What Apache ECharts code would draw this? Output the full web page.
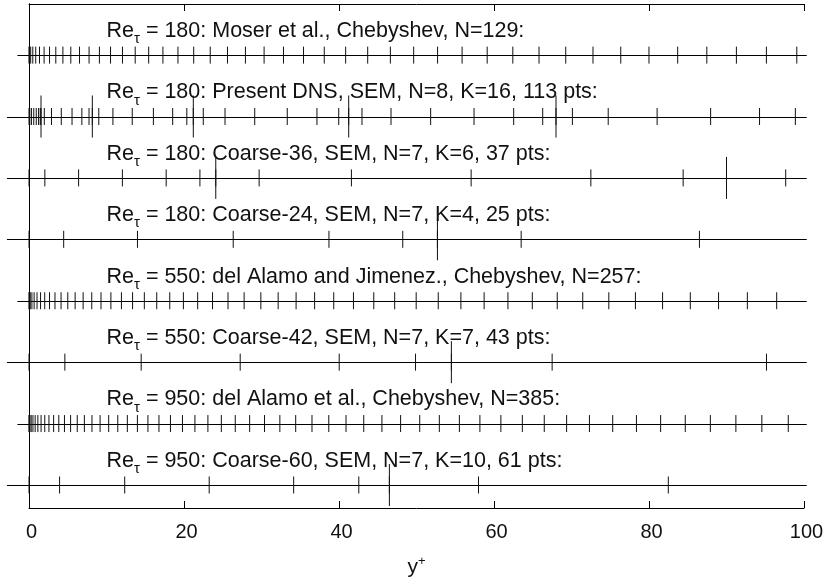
<!DOCTYPE html>
<html><head><meta charset="utf-8">
<script src="https://cdn.jsdelivr.net/npm/echarts@6/dist/echarts.min.js"></script>
<style>html,body{margin:0;padding:0;background:#fff}#c{width:825px;height:579px}</style>
</head><body><div id="c"></div>
<script>
// ---- data ----
const xTickValues = [0, 20, 40, 60, 80, 100];
const labelPrefix = 'Re';
const labelSub = 'τ';
const labelRest = [
  ' = 180: Moser et al., Chebyshev, N=129:',
  ' = 180: Present DNS, SEM, N=8, K=16, 113 pts:',
  ' = 180: Coarse-36, SEM, N=7, K=6, 37 pts:',
  ' = 180: Coarse-24, SEM, N=7, K=4, 25 pts:',
  ' = 550: del Alamo and Jimenez., Chebyshev, N=257:',
  ' = 550: Coarse-42, SEM, N=7, K=7, 43 pts:',
  ' = 950: del Alamo et al., Chebyshev, N=385:',
  ' = 950: Coarse-60, SEM, N=7, K=10, 61 pts:'
];
const moser180 = [0, 0.054, 0.217, 0.488, 0.867, 1.354, 1.948, 2.650, 3.459, 4.374, 5.395, 6.520, 7.751, 9.085, 10.522, 12.061, 13.702, 15.442, 17.282, 19.220, 21.254, 23.384, 25.609, 27.926, 30.336, 32.835, 35.423, 38.098, 40.858, 43.703, 46.629, 49.635, 52.721, 55.883, 59.119, 62.429, 65.809, 69.258, 72.774, 76.355, 79.997, 83.700, 87.461, 91.278, 95.149, 99.070];
const present180 = [0, 0.099, 0.316, 0.613, 0.937, 1.234, 1.451, 1.55, 1.975, 2.901, 4.167, 5.553, 6.819, 7.745, 8.17, 9.006, 10.830, 13.321, 16.049, 18.540, 20.364, 21.2, 22.486, 25.293, 29.127, 33.323, 37.157, 39.964, 41.25, 42.965, 46.711, 51.826, 57.424, 62.539, 66.285, 68.0, 70.116, 74.737, 81.047, 87.953, 94.263, 98.884];
const present180Elem = [1.55, 8.17, 21.2, 41.25, 68.0];
const coarse36 = [0, 2.046, 6.400, 12.05, 17.70, 22.054, 24.1, 29.694, 41.601, 57.05, 72.499, 84.406, 90, 97.64];
const coarse36Elem = [24.1, 90];
const coarse24 = [0, 4.474, 13.996, 26.35, 38.704, 48.226, 52.7, 63.506, 86.508];
const coarse24Elem = [52.7];
const delAlamo550 = [0, 0.041, 0.166, 0.373, 0.662, 1.035, 1.490, 2.028, 2.648, 3.351, 4.136, 5.004, 5.953, 6.984, 8.097, 9.292, 10.568, 11.926, 13.364, 14.883, 16.483, 18.163, 19.923, 21.763, 23.683, 25.681, 27.760, 29.916, 32.151, 34.463, 36.854, 39.322, 41.866, 44.487, 47.185, 49.958, 52.806, 55.729, 58.727, 61.798, 64.943, 68.161, 71.453, 74.815, 78.249, 81.754, 85.330, 88.976, 92.691, 96.476];
const coarse42 = [0, 4.627, 14.474, 27.25, 40.026, 49.873, 54.5, 67.5, 95.16];
const coarse42Elem = [54.5];
const delAlamo950 = [0, 0.032, 0.127, 0.286, 0.509, 0.795, 1.144, 1.557, 2.034, 2.574, 3.178, 3.844, 4.575, 5.368, 6.225, 7.144, 8.127, 9.173, 10.282, 11.454, 12.689, 13.986, 15.346, 16.769, 18.254, 19.801, 21.411, 23.083, 24.817, 26.613, 28.470, 30.390, 32.370, 34.413, 36.516, 38.681, 40.907, 43.193, 45.540, 47.948, 50.416, 52.945, 55.533, 58.181, 60.889, 63.657, 66.484, 69.370, 72.314, 75.318, 78.380, 81.501, 84.679, 87.916, 91.210, 94.562, 97.971];
const coarse60 = [0, 3.947, 12.349, 23.25, 34.151, 42.553, 46.5, 58.0, 82.49];
const coarse60Elem = [46.5];

// ---- build ----
const rowNodes = [moser180, present180, coarse36, coarse24, delAlamo550, coarse42, delAlamo950, coarse60];
const rowElems = [[], present180Elem, coarse36Elem, coarse24Elem, [], coarse42Elem, [], coarse60Elem];
const rowIsCheb = [1, 0, 0, 0, 1, 0, 1, 0];
const nRows = rowNodes.length;
const rowY = i => nRows - i; // top row = 8

const tickData = [];
rowNodes.forEach((arr, i) => arr.forEach(v => tickData.push([v, rowY(i), 0])));
rowElems.forEach((arr, i) => arr.forEach(v => tickData.push([v, rowY(i), 1])));
const lineData = rowNodes.map((a, i) => [rowY(i), rowIsCheb[i]]);
const textData = labelRest.map((t, i) => [10, rowY(i), i]);

const FONT = '"Liberation Sans", Arial, Helvetica, sans-serif';
const MAIN_SIZE = 21.5, SUB_SIZE = 15;
const SHORT = 8.5, TALL = 21;
const cv = document.createElement('canvas').getContext('2d');
function tw(t, s) { cv.font = s + 'px ' + FONT; return cv.measureText(t).width; }

const chart = echarts.init(document.getElementById('c'), null, {renderer: 'canvas'});
chart.setOption({
  animation: false,
  backgroundColor: '#fff',
  grid: {left: 29, right: 21, top: 4, bottom: 71, show: false, containLabel: false, outerBoundsMode: 'none'},
  xAxis: [{
    type: 'value', min: 0, max: 100, interval: 20, position: 'bottom',
    axisLine: {show: true, lineStyle: {color: '#000', width: 1}},
    axisTick: {show: true, inside: true, length: 7, lineStyle: {color: '#000'}},
    axisLabel: {color: '#111', fontSize: 20, fontFamily: FONT, margin: 14, padding: [0, 0, 0, 5],
      customValues: xTickValues},
    splitLine: {show: false},
    name: '{a|y}{b|+}', nameLocation: 'middle', nameGap: 47,
    nameTextStyle: {color: '#000', fontFamily: FONT,
      rich: {a: {fontSize: 21, fontFamily: FONT, color: '#111', lineHeight: 24},
             b: {fontSize: 13, fontFamily: FONT, color: '#111', verticalAlign: 'top', lineHeight: 13}}}
  }, {
    type: 'value', min: 0, max: 100, interval: 20, position: 'top',
    axisLine: {show: true, lineStyle: {color: '#000', width: 1}},
    axisTick: {show: true, inside: true, length: 7, lineStyle: {color: '#000'}},
    axisLabel: {show: false}, splitLine: {show: false}
  }],
  yAxis: [{
    type: 'value', min: 0.625, max: 8.832, position: 'left',
    axisLine: {show: true, lineStyle: {color: '#000', width: 1}},
    axisTick: {show: false}, axisLabel: {show: false}, splitLine: {show: false}
  }, {
    type: 'value', min: 0.625, max: 8.832, position: 'right',
    axisLine: {show: true, lineStyle: {color: '#000', width: 1}},
    axisTick: {show: false}, axisLabel: {show: false}, splitLine: {show: false}
  }],
  series: [{
    type: 'custom', clip: false, data: lineData, silent: true,
    renderItem: (params, api) => {
      const y = api.value(0), cheb = api.value(1);
      const p1 = api.coord([cheb ? -1.5 : -2.85, y]);
      const p2 = api.coord([100.35, y]);
      return {type: 'line', shape: {x1: p1[0], y1: Math.round(p1[1]) + 0.5, x2: p2[0], y2: Math.round(p2[1]) + 0.5},
        style: {stroke: '#000', lineWidth: 1.2}};
    }
  }, {
    type: 'custom', clip: false, data: tickData, silent: true,
    renderItem: (params, api) => {
      const p = api.coord([api.value(0), api.value(1)]);
      const h = api.value(2) ? TALL : SHORT;
      return {type: 'line', shape: {x1: p[0], y1: p[1] - h, x2: p[0], y2: p[1] + h},
        style: {stroke: '#111', lineWidth: 1}};
    }
  }, {
    type: 'custom', clip: false, data: textData, silent: true,
    renderItem: (params, api) => {
      const p = api.coord([api.value(0), api.value(1)]);
      const i = api.value(2);
      const w1 = tw(labelPrefix, MAIN_SIZE), w2 = tw(labelSub, SUB_SIZE);
      const base = p[1] - 24;
      return {type: 'group', children: [
        {type: 'text', style: {text: labelPrefix, x: p[0], y: base, font: MAIN_SIZE + 'px ' + FONT, fill: '#111', verticalAlign: 'middle', align: 'left'}},
        {type: 'text', style: {text: labelSub, x: p[0] + w1, y: base + 8, font: SUB_SIZE + 'px ' + FONT, fill: '#111', verticalAlign: 'middle', align: 'left'}},
        {type: 'text', style: {text: labelRest[i], x: p[0] + w1 + w2, y: base, font: MAIN_SIZE + 'px ' + FONT, fill: '#111', verticalAlign: 'middle', align: 'left'}}
      ]};
    }
  }]
});
</script></body></html>
